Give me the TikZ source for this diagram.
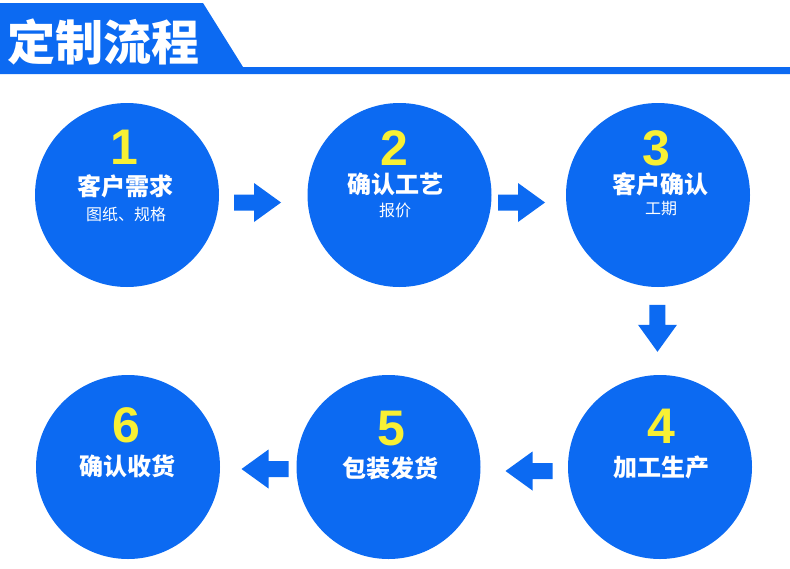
\documentclass[tikz,border=0pt]{standalone}
\usepackage{fontspec}
\setmainfont{Liberation Sans}
\newfontfamily\cjk{Noto Sans CJK SC}
\usetikzlibrary{calc}
\definecolor{flowblue}{RGB}{12,106,242}
\definecolor{digityellow}{RGB}{248,240,52}
\tikzset{
  stepcircle/.style={circle, fill=flowblue, minimum size=184pt, inner sep=0pt},
  digit/.style={text=digityellow, font=\fontsize{50}{50}\selectfont\bfseries, inner sep=0pt},
  steptitle/.style={text=white, font=\cjk\bfseries\fontsize{24}{24}\selectfont, inner sep=0pt},
  stepsub/.style={text=white, font=\cjk\fontsize{16}{16}\selectfont, inner sep=0pt},
  headtext/.style={text=white, font=\cjk\bfseries\fontsize{48}{48}\selectfont, inner sep=0pt},
  flowarrow/.pic={\fill[flowblue] (-23.5,-8) -- (-3.5,-8) -- (-3.5,-19.5) -- (23.5,0) -- (-3.5,19.5) -- (-3.5,8) -- (-23.5,8) -- cycle;}
}
\begin{document}
\begin{tikzpicture}[x=1pt,y=-1pt]
\useasboundingbox (0,0) rectangle (790,568);
\fill[white] (0,0) rectangle (790,568);
% header band
\fill[flowblue] (0,3) -- (203,3) -- (243,67) -- (790,67) -- (790,74) -- (0,74) -- cycle;
\node[headtext] (head) at (104,41.5) {定制流程};
% circles
\node[stepcircle] (c1) at (127,195) {};
\node[stepcircle] (c2) at (399.5,195) {};
\node[stepcircle] (c3) at (658,195) {};
\node[stepcircle] (c4) at (660,467) {};
\node[stepcircle] (c5) at (388.5,467) {};
\node[stepcircle] (c6) at (128,467) {};
% texts
\node[digit] (d1) at ($(c1)+(-3,-48)$) {1};
\node[steptitle] (t1) at ($(c1)+(-1.5,-9)$) {客户需求};
\node[stepsub] (s1) at ($(c1)+(-1,19)$) {图纸、规格};
\node[digit] (d2) at ($(c2)+(-5,-47)$) {2};
\node[steptitle] (t2) at ($(c2)+(-4.5,-11)$) {确认工艺};
\node[stepsub] (s2) at ($(c2)+(-4.5,15)$) {报价};
\node[digit] (d3) at ($(c3)+(-1.5,-47)$) {3};
\node[steptitle] (t3) at ($(c3)+(2.5,-11)$) {客户确认};
\node[stepsub] (s3) at ($(c3)+(3,14)$) {工期};
\node[digit] (d4) at ($(c4)+(1.5,-41)$) {4};
\node[steptitle] (t4) at ($(c4)+(1,0)$) {加工生产};
\node[digit] (d5) at ($(c5)+(3,-38)$) {5};
\node[steptitle] (t5) at ($(c5)+(1.5,1.5)$) {包装发货};
\node[digit] (d6) at ($(c6)+(-2,-42)$) {6};
\node[steptitle] (t6) at ($(c6)+(-1,-1)$) {确认收货};
% arrows
\pic at ($(c1)!0.479!(c2)+(0,7.5)$) {flowarrow};
\pic at ($(c2)!0.472!(c3)+(0,7.5)$) {flowarrow};
\pic[rotate=-90] at ($(c3)!0.49!(c4)+(-1.5,0)$) {flowarrow};
\pic[rotate=180] at ($(c4)!0.4825!(c5)+(0,4)$) {flowarrow};
\pic[rotate=180] at ($(c5)!0.474!(c6)+(0,2)$) {flowarrow};
\end{tikzpicture}
\end{document}
